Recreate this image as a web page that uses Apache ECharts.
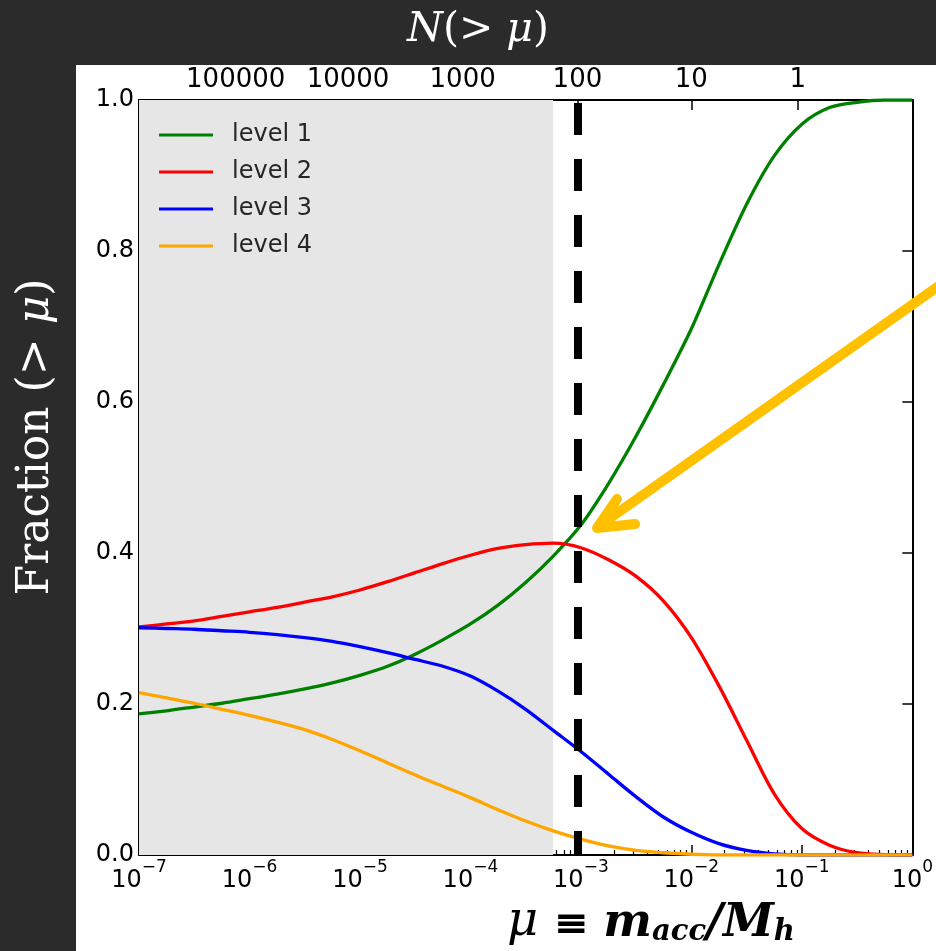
<!DOCTYPE html>
<html>
<head>
<meta charset="utf-8">
<script src="https://cdn.jsdelivr.net/npm/echarts@6/dist/echarts.min.js"></script>
<style>
html, body { margin: 0; padding: 0; background: #2b2b2b; }
#main { width: 936px; height: 951px; }
</style>
</head>
<body>
<div id="main"></div>
<script>
// log10(mu) sample points, quarter decades
var muExp = [-7, -6.75, -6.5, -6.25, -6, -5.75, -5.5, -5.25, -5, -4.75, -4.5, -4.25, -4, -3.75, -3.5, -3.25, -3, -2.75, -2.5, -2.25, -2, -1.75, -1.5, -1.25, -1, -0.75, -0.5, -0.25, 0];

// fraction at those points
var level1 = [0.187, 0.191, 0.196, 0.201, 0.207, 0.213, 0.220, 0.228, 0.238, 0.250, 0.266, 0.285, 0.306, 0.331, 0.361, 0.396, 0.437, 0.492, 0.555, 0.624, 0.697, 0.782, 0.862, 0.926, 0.968, 0.990, 0.997, 1.0, 1.0];
var level2 = [0.302, 0.306, 0.310, 0.316, 0.322, 0.328, 0.335, 0.342, 0.351, 0.362, 0.374, 0.386, 0.397, 0.406, 0.411, 0.413, 0.407, 0.391, 0.369, 0.336, 0.288, 0.224, 0.152, 0.081, 0.035, 0.013, 0.003, 0.0005, 0.0];
var level3 = [0.301, 0.300, 0.299, 0.297, 0.295, 0.292, 0.288, 0.283, 0.276, 0.268, 0.259, 0.250, 0.237, 0.217, 0.193, 0.165, 0.137, 0.107, 0.077, 0.050, 0.030, 0.015, 0.006, 0.0015, 0.0, 0.0, 0.0, 0.0, 0.0];
var level4 = [0.215, 0.208, 0.201, 0.193, 0.185, 0.176, 0.166, 0.153, 0.138, 0.122, 0.106, 0.091, 0.076, 0.060, 0.045, 0.032, 0.021, 0.012, 0.006, 0.003, 0.001, 0.0, 0.0, 0.0, 0.0, 0.0, 0.0, 0.0, 0.0];

var levelNames = ['level 1', 'level 2', 'level 3', 'level 4'];
var levelColors = ['#008000', '#ff0000', '#0000ff', '#ffa500'];

// bottom axis ticks
var majorMu = [1e-7, 1e-6, 1e-5, 1e-4, 1e-3, 1e-2, 1e-1, 1];
// top axis: N(>mu) labels and where they sit on the mu scale
var nTickLabels = ['100000', '10000', '1000', '100', '10', '1'];
var nTickMu = [7.5e-7, 7.8e-6, 8.5e-5, 9.3e-4, 1.0e-2, 9.2e-2];

var shadeEndMu = 5.6e-4;
var cutMu = 9.3e-4;

var minorMu = [];
for (var d = -7; d < 0; d++) {
	for (var k = 2; k <= 9; k++) {
		minorMu.push(k * Math.pow(10, d));
	}
}

function pairs(vals) {
	var out = [];
	for (var i = 0; i < muExp.length; i++) {
		out.push([Math.pow(10, muExp[i]), vals[i]]);
	}
	return out;
}

function powLabel(v) {
	var e = Math.round(Math.log(v) / Math.LN10);
	var s = e < 0 ? '\u2212' + (-e) : '' + e;
	return '{b|10}{sup|' + s + '}';
}

function nLabel(v) {
	var best = 0;
	for (var i = 0; i < nTickMu.length; i++) {
		if (Math.abs(Math.log(nTickMu[i] / v)) < Math.abs(Math.log(nTickMu[best] / v))) best = i;
	}
	return nTickLabels[best];
}

var black = '#000';
var tickFont = 'DejaVu Sans';
var serif = 'DejaVu Serif';

var levelSeries = levelNames.map(function(name, i){
	var data = [level1, level2, level3, level4][i];
	return {
		name: name,
		type: 'line',
		xAxisIndex: 0,
		yAxisIndex: 0,
		data: pairs(data),
		smooth: 0.3,
		symbol: 'none',
		color: levelColors[i],
		lineStyle: { width: 3.3, color: levelColors[i] },
		z: 3
	};
});

var chart = echarts.init(document.getElementById('main'), null, { renderer: 'canvas' });

var option = {
	backgroundColor: '#2b2b2b',
	animation: false,
	grid: { left: 139, right: 23, top: 100, bottom: 96, containLabel: false },
	legend: {
		data: levelNames,
		icon: 'rect',
		orient: 'vertical',
		left: 154,
		top: 118,
		itemWidth: 54,
		itemHeight: 3,
		itemGap: 13,
		textStyle: { fontFamily: tickFont, fontSize: 24, color: '#262626', padding: [0, 0, 0, 14] }
	},
	xAxis: [
		{
			type: 'log', logBase: 10, min: 1e-7, max: 1, position: 'bottom',
			axisLine: { show: true, lineStyle: { color: black, width: 2 } },
			axisTick: { show: true, inside: true, length: 10, customValues: majorMu, lineStyle: { color: black, width: 1.5 } },
			axisLabel: {
				customValues: majorMu, formatter: powLabel, margin: 4,
				color: black, fontFamily: tickFont, fontSize: 24,
				rich: {
					b: { fontSize: 24, fontFamily: tickFont, color: black, padding: [10, 0, 0, 0], verticalAlign: 'top' },
					sup: { fontSize: 17, fontFamily: tickFont, color: black, verticalAlign: 'top' }
				}
			},
			splitLine: { show: false }, minorTick: { show: false }
		},
		{
			type: 'log', logBase: 10, min: 1e-7, max: 1, position: 'bottom',
			axisLine: { show: false },
			axisTick: { show: true, inside: true, length: 5, customValues: minorMu, lineStyle: { color: black, width: 1.2 } },
			axisLabel: { show: false },
			splitLine: { show: false }
		},
		{
			type: 'log', logBase: 10, min: 1e-7, max: 1, position: 'top',
			axisLine: { show: true, lineStyle: { color: black, width: 2 } },
			axisTick: { show: true, inside: true, length: 10, customValues: nTickMu, lineStyle: { color: black, width: 1.5 } },
			axisLabel: { customValues: nTickMu, formatter: nLabel, margin: 7, color: black, fontFamily: tickFont, fontSize: 26 },
			splitLine: { show: false }
		}
	],
	yAxis: [
		{
			type: 'value', min: 0, max: 1, interval: 0.2, position: 'left',
			axisLine: { show: true, lineStyle: { color: black, width: 2 } },
			axisTick: { show: true, inside: true, length: 10, lineStyle: { color: black, width: 1.5 } },
			axisLabel: { formatter: function(v){ return v.toFixed(1); }, margin: 5, color: black, fontFamily: tickFont, fontSize: 24 },
			splitLine: { show: false }
		},
		{
			type: 'value', min: 0, max: 1, interval: 0.2, position: 'right',
			axisLine: { show: true, lineStyle: { color: black, width: 2 } },
			axisTick: { show: true, inside: true, length: 10, lineStyle: { color: black, width: 1.5 } },
			axisLabel: { show: false },
			splitLine: { show: false }
		}
	],
	series: [
		{
			name: 'shade', type: 'line', data: [], z: 1, silent: true,
			markArea: {
				silent: true,
				itemStyle: { color: '#e6e6e6' },
				data: [[{ xAxis: 1e-7 }, { xAxis: shadeEndMu }]]
			}
		}
	].concat(levelSeries).concat([
		{
			name: 'cut', type: 'line', data: [], z: 4, silent: true,
			markLine: {
				silent: true, symbol: 'none', label: { show: false },
				lineStyle: { color: black, width: 8, type: [32, 24], dashOffset: 8 },
				data: [[{ coord: [cutMu, 0] }, { coord: [cutMu, 1] }]]
			}
		}
	]),
	graphic: [
		{ type: 'rect', z: -10, silent: true, shape: { x: 76, y: 65, width: 860, height: 886 }, style: { fill: '#ffffff' } },
		{
			type: 'text', x: 478, y: 30, silent: true,
			style: {
				text: '{i|N}{r|(> }{i|\u03bc}{r|)}', align: 'center', verticalAlign: 'middle',
				rich: {
					i: { fontFamily: serif, fontSize: 41, fontStyle: 'italic', fill: '#fff' },
					r: { fontFamily: serif, fontSize: 41, fill: '#fff' }
				}
			}
		},
		{
			type: 'text', x: 37, y: 437, rotation: Math.PI / 2, silent: true,
			style: {
				text: '{r|Fraction (> }{i|\u03bc}{r|)}', align: 'center', verticalAlign: 'middle',
				rich: {
					i: { fontFamily: serif, fontSize: 44, fontStyle: 'italic', fill: '#fff' },
					r: { fontFamily: serif, fontSize: 44, fill: '#fff' }
				}
			}
		},
		{
			type: 'text', x: 651, y: 895, silent: true,
			style: {
				text: '{mu|\u03bc }{eq|\u2261 }{bi|m}{sub|acc}{bi|/M}{sub|h}', align: 'center', verticalAlign: 'top',
				rich: {
					mu: { fontFamily: serif, fontSize: 48, fontStyle: 'italic', fill: black, lineHeight: 52, verticalAlign: 'bottom' },
					eq: { fontFamily: serif, fontSize: 42, fontWeight: 'bold', fill: black, lineHeight: 52, verticalAlign: 'bottom' },
					bi: { fontFamily: serif, fontSize: 46, fontWeight: 'bold', fontStyle: 'italic', fill: black, lineHeight: 52, verticalAlign: 'bottom' },
					sub: { fontFamily: serif, fontSize: 29, fontWeight: 'bold', fontStyle: 'italic', fill: black, lineHeight: 33, verticalAlign: 'bottom' }
				}
			}
		},
		// yellow annotation arrow
		{
			type: 'polyline', z: 100, silent: true,
			shape: { points: [[940, 285], [599, 526]] },
			style: { stroke: '#ffc000', lineWidth: 10, lineCap: 'round', fill: null }
		},
		{
			type: 'polyline', z: 100, silent: true,
			shape: { points: [[617, 499], [597, 528], [635, 524]] },
			style: { stroke: '#ffc000', lineWidth: 10, lineCap: 'round', lineJoin: 'round', fill: null }
		}
	]
};

chart.setOption(option);
</script>
</body>
</html>
